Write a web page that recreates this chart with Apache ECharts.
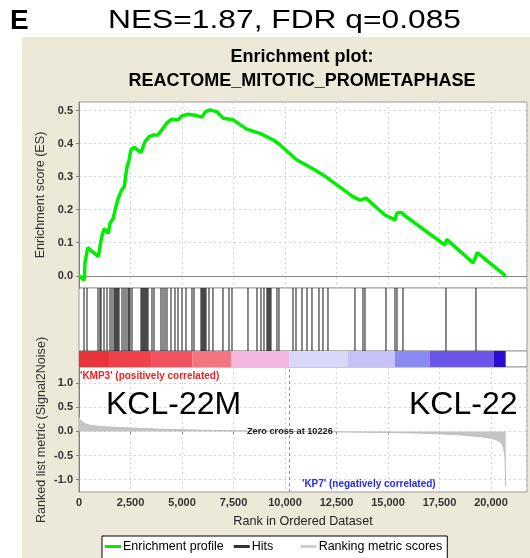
<!DOCTYPE html>
<html><head><meta charset="utf-8">
<script src="https://cdn.jsdelivr.net/npm/echarts@6/dist/echarts.min.js"></script>
<style>html,body{margin:0;padding:0;background:#fff}#c{width:530px;height:558px}</style>
</head><body><div id="c"></div>
<script>
// ---- data ----
const esRanks = [0,257,291,422,937,1019,1102,1228,1422,1505,1665,1747,1908,2073,2199,2315,2427,2524,2684,3009,3204,3398,3607,3820,4092,4257,4500,4820,4985,5305,5713,5956,6150,6359,6684,7004,7490,8140,8786,9440,9760,10567,11455,12023,13314,13640,13931,14853,15339,15421,15664,15776,17766,17848,19139,19333,20712];
const esValues = [0,-0.013,0.04,0.085,0.058,0.088,0.118,0.143,0.128,0.159,0.174,0.199,0.235,0.26,0.27,0.325,0.35,0.381,0.389,0.373,0.406,0.421,0.426,0.426,0.447,0.462,0.474,0.472,0.484,0.489,0.485,0.48,0.497,0.502,0.497,0.477,0.472,0.444,0.431,0.411,0.396,0.351,0.32,0.298,0.239,0.229,0.235,0.184,0.169,0.189,0.192,0.184,0.093,0.11,0.039,0.07,0.0];
const hitRanks = [243,388,922,1019,1068,1214,1359,1505,1602,1699,1748,1796,1845,1893,1942,2087,2184,2281,2379,2427,2476,2573,3010,3058,3107,3155,3204,3252,3301,3349,3543,3641,3980,4077,4175,4272,4466,4660,4806,5000,5194,5485,5583,5922,5971,6019,6068,6116,6165,6310,6504,6990,7281,7427,8204,8640,8834,8980,9126,9174,9223,9271,9320,9611,9708,10388,10534,10825,11068,11310,11650,11844,12087,13397,13786,13883,14903,15340,15437,15728,17816,19272];
const metricRanks = [0,50,150,300,500,1000,2000,3000,4000,5000,6000,7500,9000,10226,11000,12500,15000,16500,17500,18500,19500,20000,20300,20500,20600,20680,20700,20714];
const metricValues = [0.30,0.25,0.20,0.16,0.13,0.10,0.08,0.06,0.045,0.035,0.025,0.015,0.006,0,-0.004,-0.01,-0.02,-0.035,-0.05,-0.07,-0.11,-0.14,-0.18,-0.24,-0.32,-0.5,-0.8,-1.15];
const barStarts = [0,1500,3500,5500,7378,10220,13057,15340,17040,20144];
const barEnds   = [1500,3500,5500,7378,10220,13057,15340,17040,20144,20714];
const barColors = ['#e8353b','#ee4149','#f0535f','#f37581','#f5b6e0','#d8d8fa','#c6c2f8','#8a8af5','#6a56e8','#2c0cd0'];
const esTicks = [0,0.1,0.2,0.3,0.4,0.5];
const metricTicks = [-1,-0.5,0,0.5,1];
const zeroCross = 10226;
const xMax = 21750;
const FONT = 'Liberation Sans';

const chart = echarts.init(document.getElementById('c'), null, {renderer:'canvas'});
const fmtX = v => (v % 2500 === 0) ? v.toLocaleString('en-US') : '';

const gridBase = {left:79, width:448, show:true, backgroundColor:'#fff', borderColor:'#9a9a9a', borderWidth:1};
const splitDot = {show:true, lineStyle:{color:'#d4d4d4', type:[2,3], width:1}};
const labelStyle = {color:'#333', fontFamily:FONT, fontSize:11, fontWeight:'bold'};

function xAx(i, showLabels){
  return {type:'value', gridIndex:i, min:0, max:xMax, interval:2500,
    axisLine:{show:false}, axisTick:{show:showLabels, length:3, lineStyle:{color:'#808080'}},
    axisLabel:Object.assign({show:showLabels, formatter:fmtX, showMaxLabel:false, margin:5}, labelStyle),
    splitLine: (i===0||i===3) ? splitDot : {show:false}};
}
function yAx(i, min, max, ticks, extra){
  return Object.assign({type:'value', gridIndex:i, min:min, max:max,
    axisLine:{show:true, lineStyle:{color:'#808080'}},
    axisTick:{show:true, length:3, customValues:ticks},
    axisLabel:Object.assign({formatter:v=>v.toFixed(1), margin:6, customValues:ticks}, labelStyle),
    splitLine:splitDot}, extra||{});
}

const option = {
  animation:false,
  graphic:[
    {type:'rect', z:-100, shape:{x:22,y:37,width:508,height:521}, style:{fill:'#ece9d8'}},
    {type:'text', x:10, y:21, style:{text:'E', font:'bold 28px '+FONT, fill:'#000', verticalAlign:'middle'}},
    {type:'text', x:284.5, y:21, scaleX:1.27, style:{text:'NES=1.87, FDR q=0.085', font:'25px '+FONT, fill:'#000', align:'center', verticalAlign:'middle'}},
    {type:'text', x:302, y:57, style:{text:'Enrichment plot:', font:'bold 18px '+FONT, fill:'#000', align:'center', verticalAlign:'middle'}},
    {type:'text', x:302, y:81, style:{text:'REACTOME_MITOTIC_PROMETAPHASE', font:'bold 18px '+FONT, fill:'#000', align:'center', verticalAlign:'middle'}},
    {type:'text', x:42, y:430, rotation:Math.PI/2, style:{text:'Ranked list metric (Signal2Noise)', font:'12.6px '+FONT, fill:'#333', align:'center', verticalAlign:'middle'}},
    {type:'text', x:80, y:376, z:10, style:{text:"'KMP3' (positively correlated)", font:'bold 10px '+FONT, fill:'#f22020', verticalAlign:'middle'}},
    {type:'text', x:302, y:484, z:10, style:{text:"'KP7' (negatively correlated)", font:'bold 10px '+FONT, fill:'#2828f0', verticalAlign:'middle'}},
    {type:'text', x:247, y:431, z:10, style:{text:'Zero cross at 10226', font:'bold 9.2px '+FONT, fill:'#222', verticalAlign:'middle'}},
    {type:'text', x:106, y:405, z:10, style:{text:'KCL-22M', font:'32px '+FONT, fill:'#000', verticalAlign:'middle'}},
    {type:'text', x:409, y:405, z:10, style:{text:'KCL-22', font:'32px '+FONT, fill:'#000', verticalAlign:'middle'}}
  ],
  grid:[
    Object.assign({top:102, height:186}, gridBase),
    Object.assign({top:288, height:63}, gridBase),
    Object.assign({top:351, height:16}, gridBase),
    Object.assign({top:367, height:125}, gridBase)
  ],
  xAxis:[xAx(0,false), xAx(1,false), xAx(2,false),
    Object.assign(xAx(3,true), {name:'Rank in Ordered Dataset', nameLocation:'middle', nameGap:23,
      nameTextStyle:{fontFamily:FONT, fontSize:12.6, color:'#222'}})],
  yAxis:[
    yAx(0, -0.037, 0.526, esTicks, {name:'Enrichment score (ES)', nameLocation:'middle', nameGap:30,
      nameTextStyle:{fontFamily:FONT, fontSize:12.6, color:'#333'}}),
    {type:'value', gridIndex:1, min:0, max:1, show:false, splitLine:{show:false}},
    {type:'value', gridIndex:2, min:0, max:1, show:false, splitLine:{show:false}},
    yAx(3, -1.257, 1.337, metricTicks)
  ],
  legend:{left:102, top:536, orient:'horizontal', backgroundColor:'#fff', borderColor:'#000', borderWidth:1,
    padding:[4,5,8,3], itemGap:10, itemWidth:16, itemHeight:3, icon:'rect',
    formatter: n => n === 'Hits' ? 'Hits' + '\u00a0'.repeat(5) : n,
    textStyle:{fontFamily:FONT, fontSize:12.5, color:'#000', padding:[0,0,0,-3]},
    data:[
      {name:'Enrichment profile', itemStyle:{color:'#00ee00'}},
      {name:'Hits', itemStyle:{color:'#333'}},
      {name:'Ranking metric scores', itemStyle:{color:'#cfcfcf'}}
    ]},
  series:[
    {name:'Enrichment profile', type:'line', xAxisIndex:0, yAxisIndex:0,
      data: esRanks.map((r,i)=>[r, esValues[i]]), showSymbol:false, symbol:'none',
      lineStyle:{color:'#00ee00', width:3.5}, itemStyle:{color:'#00ee00'}, z:5,
      markLine:{silent:true, symbol:'none', label:{show:false}, lineStyle:{color:'#888', width:1, type:'solid'},
        data:[{yAxis:0}]}},
    {name:'Hits', type:'custom', xAxisIndex:1, yAxisIndex:1,
      data: hitRanks.map(r=>[r]), encode:{x:0},
      itemStyle:{color:'#333'},
      renderItem:(params, api)=>{
        const a = api.coord([api.value(0), 0]);
        const b = api.coord([api.value(0), 1]);
        return {type:'line', shape:{x1:a[0], y1:a[1], x2:b[0], y2:b[1]},
          style:{stroke:'rgba(0,0,0,0.62)', lineWidth:1.5}};
      }},
    {name:'ColorBar', type:'custom', xAxisIndex:2, yAxisIndex:2,
      data: barStarts.map((s,i)=>[s, barEnds[i], i]), encode:{x:[0,1]},
      renderItem:(params, api)=>{
        const a = api.coord([api.value(0), 0]);
        const b = api.coord([api.value(1), 1]);
        return {type:'rect', shape:{x:a[0], y:b[1], width:b[0]-a[0], height:a[1]-b[1]},
          style:{fill:barColors[api.value(2)]}};
      }},
    {name:'Ranking metric scores', type:'line', xAxisIndex:3, yAxisIndex:3,
      data: metricRanks.map((r,i)=>[r, metricValues[i]]), showSymbol:false, symbol:'none',
      lineStyle:{color:'#bdbdbd', width:1}, areaStyle:{color:'#c4c4c4', origin:0, opacity:1}, itemStyle:{color:'#cfcfcf'},
      markLine:{silent:true, symbol:'none', label:{show:false}, lineStyle:{color:'#909090', width:1, type:[3,3]},
        data:[{xAxis:zeroCross}]}}
  ]
};
chart.setOption(option);
</script></body></html>
